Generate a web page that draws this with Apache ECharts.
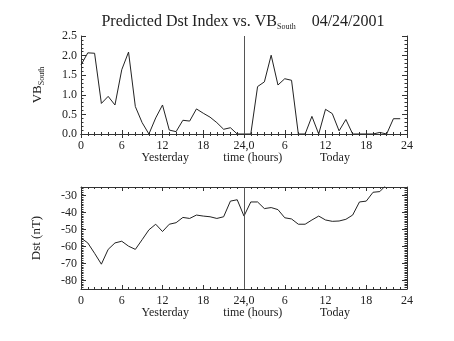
<!DOCTYPE html>
<html><head><meta charset="utf-8">
<script src="https://cdn.jsdelivr.net/npm/echarts@6/dist/echarts.min.js"></script>
<style>html,body{margin:0;padding:0;background:#fff}#c{width:454px;height:341px}</style>
</head><body><div id="c"></div>
<script>
// Hours across yesterday (0-23) and today (24-47)
const hours = [0,1,2,3,4,5,6,7,8,9,10,11,12,13,14,15,16,17,18,19,20,21,22,23,
               24,25,26,27,28,29,30,31,32,33,34,35,36,37,38,39,40,41,42,43,44,45,46,47];
const vbSouth = [1.76,2.07,2.06,0.78,0.96,0.74,1.64,2.09,0.70,0.29,0,0.41,0.74,0.10,0.06,0.35,0.33,0.64,0.53,0.43,0.29,0.12,0.16,0,
                 0,0,1.21,1.33,2.01,1.25,1.41,1.37,0,0,0.45,0,0.63,0.52,0.08,0.37,0,0,0,0,0.04,0,0.39,0.39];
const dstHours = [0,1,2,3,4,5,6,7,8,9,10,11,12,13,14,15,16,17,18,19,20,21,22,23,
                  24,25,26,27,28,29,30,31,32,33,34,35,36,37,38,39,40,41,42,43,44,45];
const dst = [-55.0,-57.9,-64.0,-70.4,-61.7,-57.9,-56.9,-59.8,-61.7,-56.0,-50.2,-46.9,-51.2,-46.9,-46.0,-42.9,-43.5,-41.5,-42.1,-42.5,-43.5,-42.5,-33.3,-32.5,
             -42.1,-33.8,-33.8,-37.7,-37.1,-38.3,-43.1,-43.8,-46.9,-46.9,-44.4,-42.1,-44.4,-45.2,-45.0,-44.0,-41.5,-33.8,-33.3,-28.1,-27.7,-23.5];
const xTickLabels = ['0','6','12','18','24,0','6','12','18','24'];
const dayLabels = ['Yesterday','time (hours)','Today'];
const vbTicks = [0,0.5,1.0,1.5,2.0,2.5];
const dstTicks = [-80,-70,-60,-50,-40,-30];

const C = '#333';
const FONT = 'Liberation Serif';
const chart = echarts.init(document.getElementById('c'));

function xAx(gi, pos, labels) {
  return {
    type:'value', gridIndex:gi, min:0, max:48, interval:6, position:pos,
    axisLine:{show:true, lineStyle:{color:C, width:1}},
    axisTick:{show:true, inside:true, length:4, lineStyle:{color:C, width:1}},
    minorTick:{show:true, splitNumber:6, length:2, lineStyle:{color:C, width:1}},
    splitLine:{show:false},
    axisLabel:{show:labels, color:'#222', fontFamily:FONT, fontSize:12, margin:6,
      formatter:v => xTickLabels[Math.round(v/6)]}
  };
}
function yMain(gi, pos, min, max, interval, ticks, labels, fmt, name) {
  const a = {
    type:'value', gridIndex:gi, min:min, max:max, interval:interval, position:pos,
    axisLine:{show:true, lineStyle:{color:C, width:1}},
    axisTick:{show:true, inside:true, length:5, lineStyle:{color:C, width:1}, customValues:ticks},
    minorTick:{show:false},
    splitLine:{show:false},
    axisLabel:{show:labels, color:'#222', fontFamily:FONT, fontSize:12, margin:4, formatter:fmt, customValues:ticks}
  };
  if (name) {
    a.name = name.text; a.nameLocation = 'middle'; a.nameGap = name.gap; a.nameRotate = 90;
    a.nameTextStyle = {color:'#222', fontFamily:FONT, fontSize:13, rich:{
      a:{fontFamily:FONT, fontSize:13, color:'#222'},
      b:{fontFamily:FONT, fontSize:8, color:'#222', padding:[9,0,0,0]}}};
  }
  return a;
}
function yMinor(gi, pos, min, max, interval) {
  return {
    type:'value', gridIndex:gi, min:min, max:max, interval:interval, position:pos,
    axisLine:{show:false}, axisLabel:{show:false}, splitLine:{show:false},
    axisTick:{show:true, inside:true, length:2.5, lineStyle:{color:C, width:1}}
  };
}

const vLine = {silent:true, symbol:'none', label:{show:false},
  lineStyle:{color:'#555', type:'solid', width:1}, data:[{xAxis:24}]};

chart.setOption({
  animation:false,
  backgroundColor:'#fff',
  title:{
    text:'{a|Predicted Dst Index vs. VB}{b|South}{a|    04/24/2001}',
    left:238, top:7, textAlign:'center',
    textStyle:{fontFamily:FONT, fontSize:16, fontWeight:'normal', color:'#222', rich:{
      a:{fontFamily:FONT, fontSize:16, color:'#222'},
      b:{fontFamily:FONT, fontSize:8, color:'#222', padding:[11,0,0,0]}}}
  },
  grid:[
    {left:81, right:47, top:36, height:98},
    {left:81, right:47, top:187, height:102}
  ],
  xAxis:[xAx(0,'bottom',true), xAx(0,'top',false), xAx(1,'bottom',true), xAx(1,'top',false)],
  yAxis:[
    yMain(0,'left',0,2.5,0.5,vbTicks,true,v=>v.toFixed(1),{text:'{a|VB}{b|South}', gap:35}),
    yMinor(0,'left',0,2.5,0.1),
    yMain(0,'right',0,2.5,0.5,vbTicks,false,v=>v.toFixed(1)),
    yMinor(0,'right',0,2.5,0.1),
    yMain(1,'left',-85,-25,5,dstTicks,true,v=>String(v),{text:'Dst (nT)', gap:38}),
    yMinor(1,'left',-85,-25,1),
    yMain(1,'right',-85,-25,5,dstTicks,false,v=>String(v)),
    yMinor(1,'right',-85,-25,1)
  ],
  series:[
    {type:'line', xAxisIndex:0, yAxisIndex:0, showSymbol:false, symbol:'none',
     lineStyle:{color:'#222', width:1}, data:hours.map((h,i)=>[h, vbSouth[i]]), markLine:vLine},
    {type:'line', xAxisIndex:2, yAxisIndex:4, showSymbol:false, symbol:'none', clip:true,
     lineStyle:{color:'#222', width:1}, data:dstHours.map((h,i)=>[h, dst[i]]), markLine:vLine}
  ]
});

// second-line labels under each time axis
const gfx = [];
[[0,134],[2,289]].forEach(([xi,bottom])=>{
  const xs = [12.4, 25.3, 37.4];
  xs.forEach((h,k)=>{
    const px = chart.convertToPixel({xAxisIndex:xi}, h);
    gfx.push({type:'text', x:px, y:bottom+24, style:{text:dayLabels[k], font:'12px "Liberation Serif"',
      fill:'#222', textAlign:'center', textVerticalAlign:'middle'}});
  });
});
chart.setOption({graphic:gfx});
</script></body></html>
